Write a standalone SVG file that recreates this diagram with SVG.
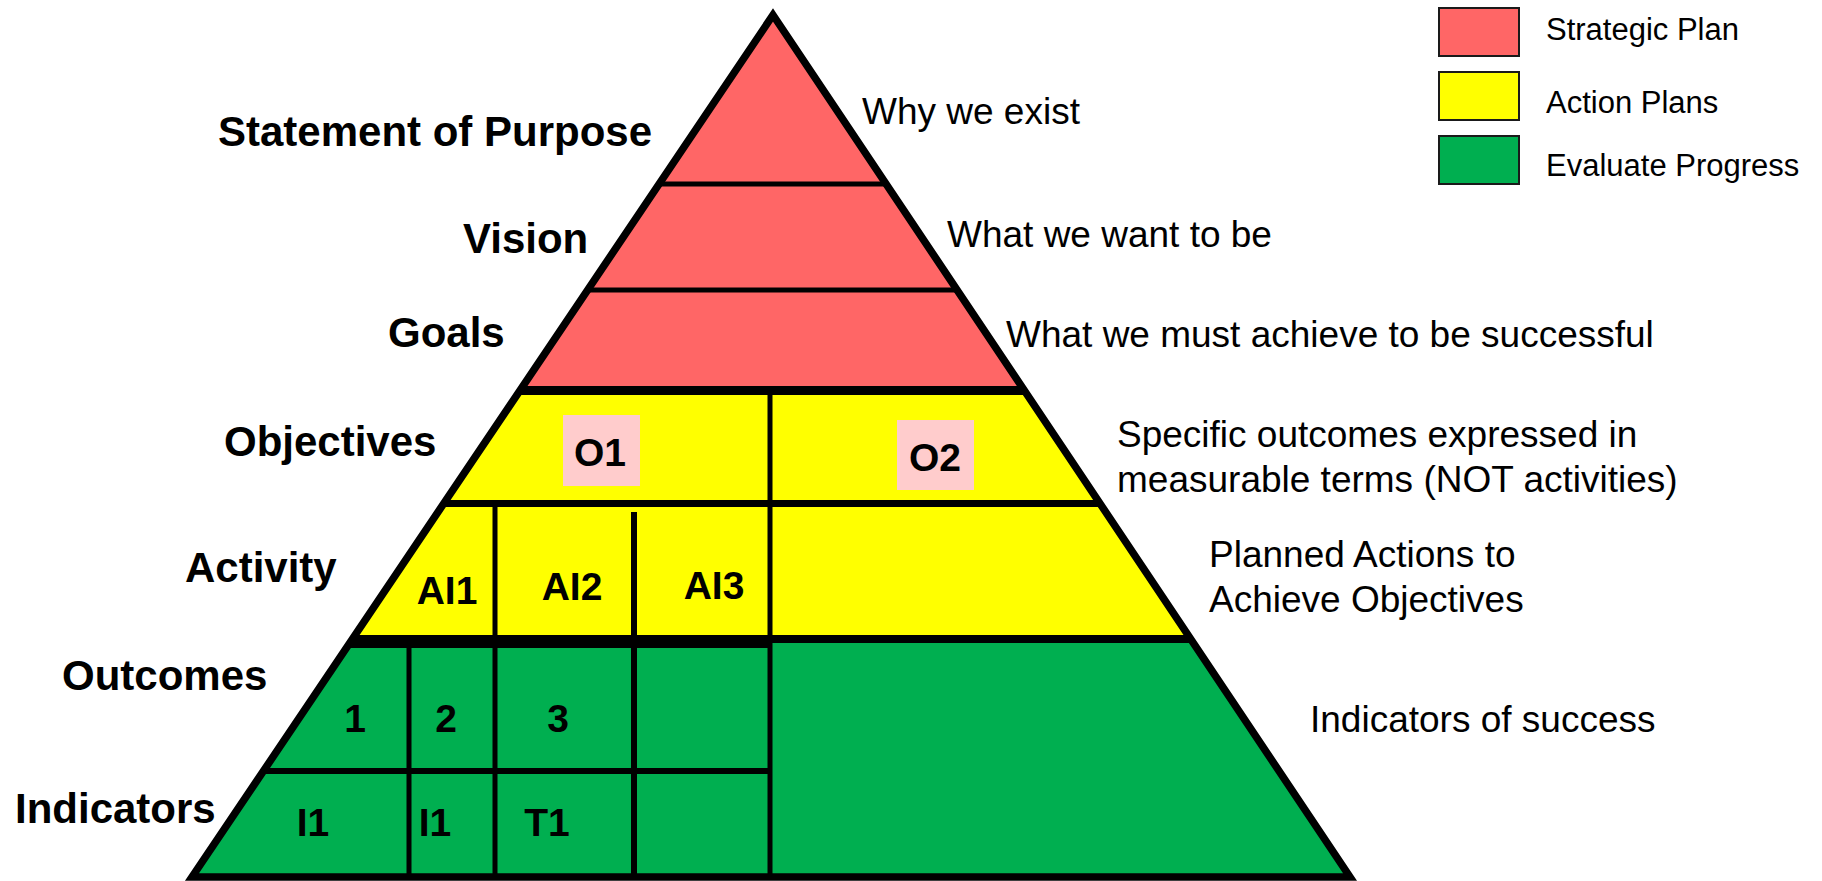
<svg xmlns="http://www.w3.org/2000/svg" width="1822" height="881" viewBox="0 0 1822 881">
<style>
.lbl{font-family:"Liberation Sans",Arial,sans-serif;font-weight:bold;font-size:42px;fill:#000}
.desc{font-family:"Liberation Sans",Arial,sans-serif;font-size:37px;fill:#000}
.leg{font-family:"Liberation Sans",Arial,sans-serif;font-size:31px;fill:#000}
.cell{font-family:"Liberation Sans",Arial,sans-serif;font-weight:bold;font-size:39px;fill:#000;text-anchor:middle}
.ln{stroke:#000;fill:none}
.red{fill:#FF6666}
.yel{fill:#FFFF00}
.grn{fill:#00AF50}
.pink{fill:#FFCCCC}
.lg{stroke:#1a1a1a;stroke-width:2}
</style>
<defs>
<clipPath id="tri"><polygon points="773,15 1350,877 192,877"/></clipPath>
</defs>
<rect width="1822" height="881" fill="#fff"/>
<g id="pyramid" clip-path="url(#tri)">
<g id="layer-purpose"><rect class="red" x="150" y="0" width="1250" height="184"/></g>
<g id="layer-vision"><rect class="red" x="150" y="184" width="1250" height="106"/></g>
<g id="layer-goals"><rect class="red" x="150" y="290" width="1250" height="100"/></g>
<g id="layer-objectives"><rect class="yel" x="150" y="390" width="1250" height="113"/></g>
<g id="layer-activity"><rect class="yel" x="150" y="503" width="1250" height="136"/></g>
<g id="layer-outcomes"><rect class="grn" x="150" y="639" width="1250" height="240"/></g>
<g id="grid-lines">
<line class="ln" x1="150" y1="184" x2="1400" y2="184" stroke-width="5"/>
<line class="ln" x1="150" y1="290" x2="1400" y2="290" stroke-width="5"/>
<line class="ln" x1="150" y1="390.5" x2="1400" y2="390.5" stroke-width="9"/>
<line class="ln" x1="150" y1="503.5" x2="1400" y2="503.5" stroke-width="7"/>
<line class="ln" x1="150" y1="639" x2="1400" y2="639" stroke-width="8"/>
<line class="ln" x1="150" y1="645.5" x2="770" y2="645.5" stroke-width="5"/>
<line class="ln" x1="150" y1="771" x2="770" y2="771" stroke-width="6"/>
<line class="ln" x1="770" y1="390" x2="770" y2="880" stroke-width="5"/>
<line class="ln" x1="495" y1="503" x2="495" y2="880" stroke-width="5"/>
<line class="ln" x1="634" y1="512" x2="634" y2="880" stroke-width="6"/>
<line class="ln" x1="409" y1="645" x2="409" y2="880" stroke-width="5"/>
</g>
</g>
<polygon id="outline" class="ln" points="773,15 1350,877 192,877" stroke-width="7.5" stroke-linejoin="miter"/>
<g id="cell-O1"><rect class="pink" x="563" y="415" width="77" height="71"/><text class="cell" x="600" y="466">O1</text></g>
<g id="cell-O2"><rect class="pink" x="897" y="420" width="77" height="70"/><text class="cell" x="935" y="471">O2</text></g>
<g id="cell-AI1"><text class="cell" x="447" y="604">AI1</text></g>
<g id="cell-AI2"><text class="cell" x="572" y="600">AI2</text></g>
<g id="cell-AI3"><text class="cell" x="714" y="599">AI3</text></g>
<g id="cell-1"><text class="cell" x="355" y="732">1</text></g>
<g id="cell-2"><text class="cell" x="446" y="732">2</text></g>
<g id="cell-3"><text class="cell" x="558" y="732">3</text></g>
<g id="cell-I1a"><text class="cell" x="313" y="836">I1</text></g>
<g id="cell-I1b"><text class="cell" x="435" y="836">I1</text></g>
<g id="cell-T1"><text class="cell" x="547" y="836">T1</text></g>
<g id="left-labels">
<text class="lbl" x="218" y="146">Statement of Purpose</text>
<text class="lbl" x="463" y="253">Vision</text>
<text class="lbl" x="388" y="347">Goals</text>
<text class="lbl" x="224" y="456">Objectives</text>
<text class="lbl" x="185" y="582">Activity</text>
<text class="lbl" x="62" y="690">Outcomes</text>
<text class="lbl" x="15" y="823">Indicators</text>
</g>
<g id="right-labels">
<text class="desc" x="862" y="124">Why we exist</text>
<text class="desc" x="947" y="247">What we want to be</text>
<text class="desc" x="1006" y="347">What we must achieve to be successful</text>
<text class="desc" x="1117" y="447">Specific outcomes expressed in</text>
<text class="desc" x="1117" y="492">measurable terms (NOT activities)</text>
<text class="desc" x="1209" y="567">Planned Actions to</text>
<text class="desc" x="1209" y="612">Achieve Objectives</text>
<text class="desc" x="1310" y="732">Indicators of success</text>
</g>
<g id="legend">
<g id="legend-strategic"><rect class="red lg" x="1439" y="8" width="80" height="48"/><text class="leg" x="1546" y="40">Strategic Plan</text></g>
<g id="legend-action"><rect class="yel lg" x="1439" y="72" width="80" height="48"/><text class="leg" x="1546" y="113">Action Plans</text></g>
<g id="legend-evaluate"><rect class="grn lg" x="1439" y="136" width="80" height="48"/><text class="leg" x="1546" y="176">Evaluate Progress</text></g>
</g>
</svg>
